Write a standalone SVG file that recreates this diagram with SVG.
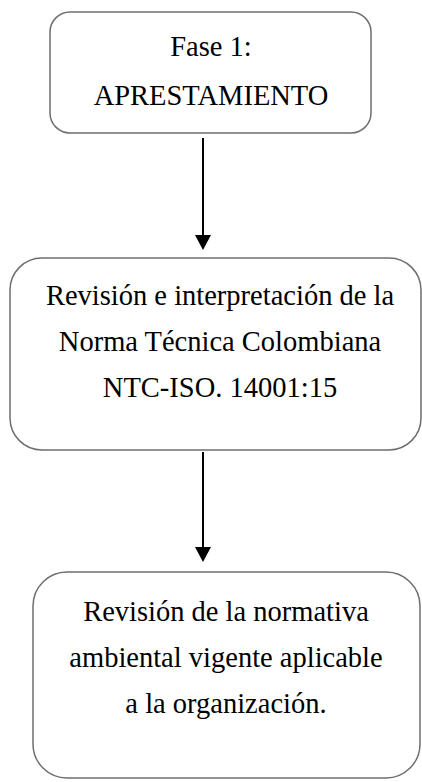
<svg xmlns="http://www.w3.org/2000/svg" width="422" height="782" viewBox="0 0 422 782">
<style>
.box{fill:#fff;stroke:#6e6e6e;stroke-width:1.5}
.t{font-size:28.5px;fill:#000;text-anchor:middle}
.c{stroke:#000;stroke-width:2;fill:none}
.h{fill:#000}
</style>
<rect width="422" height="782" fill="#fff"/>
<g id="connectors">
<line class="c" x1="203" y1="138" x2="203" y2="237"/>
<path class="h" d="M195,235 L211,235 L203,250 z"/>
<line class="c" x1="203" y1="452" x2="203" y2="549"/>
<path class="h" d="M195,547 L211,547 L203,562 z"/>
</g>
<g font-family="'Liberation Serif','Times New Roman','DejaVu Serif',serif">
<g id="node1">
<rect class="box" x="50" y="12" width="321" height="121" rx="20"/>
<text class="t" x="211" y="56">Fase 1:</text>
<text class="t" x="211" y="105">APRESTAMIENTO</text>
</g>
<g id="node2">
<rect class="box" x="10" y="258" width="411" height="192" rx="32"/>
<text class="t" x="220" y="305">Revisión e interpretación de la</text>
<text class="t" x="220" y="351">Norma Técnica Colombiana</text>
<text class="t" x="220" y="397">NTC-ISO. 14001:15</text>
</g>
<g id="node3">
<rect class="box" x="33" y="572" width="387" height="206" rx="34"/>
<text class="t" x="226" y="621">Revisión de la normativa</text>
<text class="t" x="226" y="667">ambiental vigente aplicable</text>
<text class="t" x="226" y="713">a la organización.</text>
</g>
</g>
</svg>
